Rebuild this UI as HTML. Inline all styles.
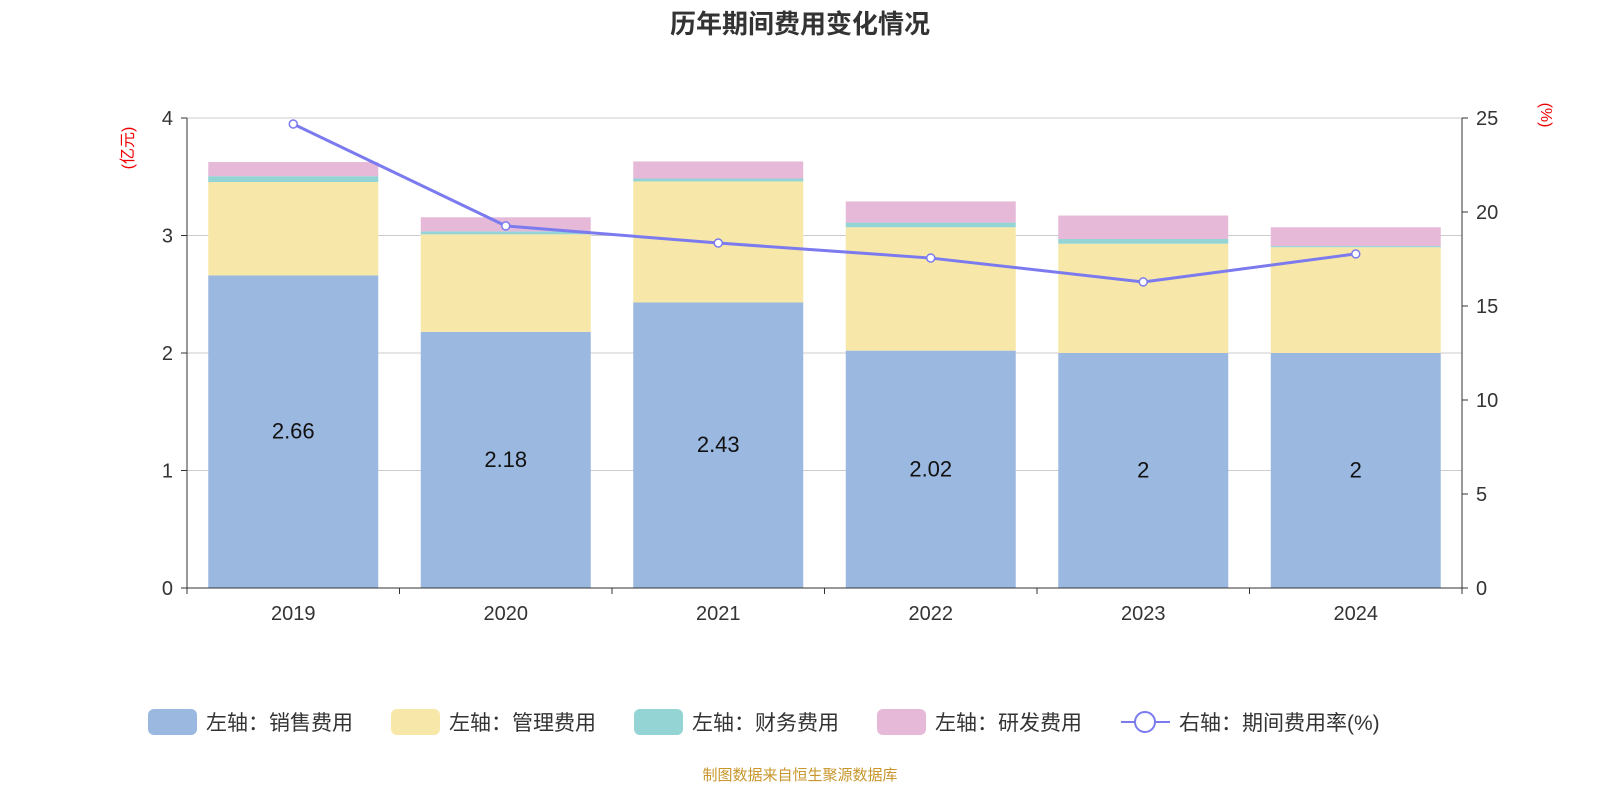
<!DOCTYPE html>
<html><head><meta charset="utf-8"><style>
html,body{margin:0;padding:0;background:#fff;overflow:hidden;width:1600px;height:800px;}
svg{display:block;}
svg text{font-family:"Liberation Sans","Noto Sans CJK SC",sans-serif;}
</style></head><body>
<svg id="c" width="1600" height="800" xmlns="http://www.w3.org/2000/svg">
<text x="800" y="33" text-anchor="middle" font-size="26" font-weight="bold" fill="#333">历年期间费用变化情况</text>
<text transform="translate(133,148) rotate(-90)" text-anchor="middle" font-size="16" fill="#e00">(亿元)</text>
<text transform="translate(1541,115) rotate(90)" text-anchor="middle" font-size="16" fill="#e00">(%)</text>
<g id="grid"></g><g id="bars"></g><g id="line"></g><g id="axes"></g>
<g id="legend" transform="translate(0,722)"></g>
<text x="800" y="780" text-anchor="middle" font-size="15" fill="#c8962c">制图数据来自恒生聚源数据库</text>
</svg>
<script>
const years=["2019","2020","2021","2022","2023","2024"];
const sales=[2.66,2.18,2.43,2.02,2,2];
const mgmt=[0.795,0.83,1.03,1.05,0.93,0.90];
const fin=[0.05,0.025,0.025,0.04,0.04,0.01];
const rd=[0.12,0.12,0.145,0.18,0.2,0.16];
const rate=[24.68,19.26,18.35,17.55,16.28,17.77];
const leftTicks=[0,1,2,3,4];
const rightTicks=[0,5,10,15,20,25];
const NS="http://www.w3.org/2000/svg";
const x0=187,x1=1462,yb=588,yt=118;
const bw=(x1-x0)/years.length;
const yL=v=>yb-(v/4)*(yb-yt);
const yR=v=>yb-(v/25)*(yb-yt);
const xc=i=>x0+bw*(i+0.5);
function mk(t,a,p){const e=document.createElementNS(NS,t);for(const k in a)e.setAttribute(k,a[k]);p.appendChild(e);return e;}
const grid=document.getElementById('grid'),bars=document.getElementById('bars'),line=document.getElementById('line'),axes=document.getElementById('axes'),leg=document.getElementById('legend');
leftTicks.forEach(t=>{const y=yL(t);
 if(t>0){const g=mk('line',{x1:x0,x2:x1,y1:y,y2:y,stroke:'#ccc','stroke-width':1},grid);
 
 }
 mk('line',{x1:x0-6,x2:x0,y1:y,y2:y,stroke:'#333'},axes);
 const tx=mk('text',{x:x0-14,y:y+7,'text-anchor':'end','font-size':20,fill:'#333'},axes);tx.textContent=t;
 
 });
rightTicks.forEach(t=>{const y=yR(t);
 mk('line',{x1:x1,x2:x1+6,y1:y,y2:y,stroke:'#333'},axes);
 const tx=mk('text',{x:x1+14,y:y+7,'font-size':20,fill:'#333'},axes);tx.textContent=t;
 
 });
mk('line',{x1:x0,x2:x0,y1:yt,y2:yb,stroke:'#333'},axes);
mk('line',{x1:x1,x2:x1,y1:yt,y2:yb,stroke:'#333'},axes);
mk('line',{x1:x0,x2:x1,y1:yb,y2:yb,stroke:'#333'},axes);
for(let i=0;i<=years.length;i++){const x=x0+bw*i;mk('line',{x1:x,x2:x,y1:yb,y2:yb+6,stroke:'#333'},axes);}
const series=[[sales,'#9bb8e0','sales'],[mgmt,'#f7e8a9','management'],[fin,'#94d4d4','finance'],[rd,'#e6b9d9','rnd']];
years.forEach((yr,i)=>{let base=0;
 series.forEach(([arr,col,nm])=>{const top=base+arr[i];
  const r=mk('rect',{x:xc(i)-85,width:170,y:yL(top),height:yL(base)-yL(top),fill:col},bars);
  
  
  base=top;});
 const lb=mk('text',{x:xc(i),y:(yL(sales[i])+yb)/2+7,'text-anchor':'middle','font-size':22,fill:'#111'},bars);lb.textContent=sales[i];
 
 
 const tx=mk('text',{x:xc(i),y:620,'text-anchor':'middle','font-size':20,fill:'#333'},axes);tx.textContent=yr;
 
 });
const pl=mk('polyline',{points:rate.map((v,i)=>xc(i)+','+yR(v)).join(' '),fill:'none',stroke:'#7b7bef','stroke-width':3},line);


rate.forEach((v,i)=>{const c=mk('circle',{cx:xc(i),cy:yR(v),r:4,fill:'#fff',stroke:'#7b7bef','stroke-width':1.5},line);
 
 });
const items=[['左轴：销售费用','#9bb8e0',148],['左轴：管理费用','#f7e8a9',391],['左轴：财务费用','#94d4d4',634],['左轴：研发费用','#e6b9d9',877]];
items.forEach(([t,c,x])=>{const g=mk('g',{},leg);
 
 
 mk('rect',{x:x,y:-13,width:49,height:26,rx:6,fill:c},g);
 const tx=mk('text',{x:x+58,y:8,'font-size':21,fill:'#333'},g);tx.textContent=t;});
const g=mk('g',{},leg);


mk('line',{x1:1121,x2:1170,y1:0,y2:0,stroke:'#7b7bef','stroke-width':2},g);
mk('circle',{cx:1145,cy:0,r:10,fill:'#fff',stroke:'#7b7bef','stroke-width':2},g);
const lt=mk('text',{x:1179,y:8,'font-size':21,fill:'#333'},g);lt.textContent='右轴：期间费用率(%)';
</script>
</body></html>
